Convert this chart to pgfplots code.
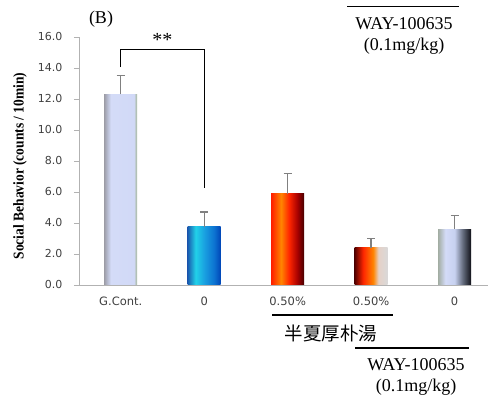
\documentclass[border=0pt]{standalone}
\usepackage{pgfplots}
\pgfplotsset{compat=1.18}
\usepackage{fontspec}
\setmainfont{Liberation Serif}
\newfontfamily\tickfont{DejaVu Sans}
\newfontfamily\cjk{Noto Sans CJK JP}
% shadings: path occupies 25bp..75bp of a 100bp shading
\pgfdeclarehorizontalshading{sgcont}{100bp}{rgb(0bp)=(0.62,0.62,0.66); rgb(25bp)=(0.62,0.62,0.66); rgb(30bp)=(0.72,0.74,0.82); rgb(35bp)=(0.83,0.86,0.97); rgb(70bp)=(0.82,0.85,0.97); rgb(73bp)=(0.70,0.76,0.72); rgb(75bp)=(0.64,0.70,0.64); rgb(100bp)=(0.64,0.70,0.64)}
\pgfdeclarehorizontalshading{sblue}{100bp}{rgb(0bp)=(0.10,0.36,0.69); rgb(25bp)=(0.10,0.36,0.69); rgb(37bp)=(0.13,0.82,0.91); rgb(50bp)=(0.10,0.63,0.88); rgb(65bp)=(0.05,0.45,0.82); rgb(75bp)=(0.0,0.27,0.72); rgb(100bp)=(0.0,0.27,0.72)}
\pgfdeclarehorizontalshading{sred}{100bp}{rgb(0bp)=(1,0.12,0); rgb(25bp)=(1,0.12,0); rgb(40bp)=(1,0.52,0); rgb(52bp)=(1,0.15,0); rgb(65bp)=(0.65,0,0); rgb(75bp)=(0.27,0,0); rgb(100bp)=(0.27,0,0)}
\pgfdeclarehorizontalshading{smix}{100bp}{rgb(0bp)=(0.33,0,0); rgb(25bp)=(0.33,0,0); rgb(38bp)=(1,0.15,0); rgb(53bp)=(1,0.52,0); rgb(61bp)=(0.90,0.82,0.78); rgb(75bp)=(0.85,0.85,0.85); rgb(100bp)=(0.85,0.85,0.85)}
\pgfdeclarehorizontalshading{sdark}{100bp}{rgb(0bp)=(0.64,0.68,0.64); rgb(25bp)=(0.64,0.68,0.64); rgb(36bp)=(0.83,0.86,0.97); rgb(50bp)=(0.78,0.82,0.94); rgb(62bp)=(0.40,0.43,0.50); rgb(75bp)=(0.06,0.06,0.09); rgb(100bp)=(0.06,0.06,0.09)}
\begin{document}
\begin{tikzpicture}[x=1pt,y=1pt]
\useasboundingbox (0,0) rectangle (488,398);
\begin{axis}[
  at={(79pt,113pt)}, anchor=south west,
  scale only axis, width=409pt, height=248pt,
  xmin=-0.5, xmax=4.4, ymin=0, ymax=16,
  ytick={0,2,...,16},
  xtick={0,1,2,3,4},
  xticklabels={G.Cont.,0,0.50\%,0.50\%,0},
  axis x line*=bottom, axis y line*=left,
  axis line style={gray!60, line width=0.8pt},
  x axis line style={-}, y axis line style={-},
  major x tick style={draw=none},
  major y tick style={gray!60, line width=0.8pt},
  tick align=outside, major tick length=5pt,
  /pgf/number format/assume math mode=true,
  yticklabel style={/pgf/number format/.cd, fixed, fixed zerofill, precision=1, /tikz/.cd, font=\tickfont\fontsize{11}{13}\selectfont, text=black!75, xshift=-8pt},
  xticklabel style={font=\tickfont\fontsize{11.5}{13}\selectfont, text=black!75, yshift=-3pt},
  clip=false,
  ybar, bar width=33pt, bar shift=0pt,
]
\addplot[draw=none, shading=sgcont, shade] coordinates {(0,12.3)};
\addplot[draw=none, shading=sblue, shade] coordinates {(1,3.75)};
\addplot[draw=none, shading=sred, shade] coordinates {(2,5.9)};
\addplot[draw=none, shading=smix, shade] coordinates {(3,2.4)};
\addplot[draw=none, shading=sdark, shade] coordinates {(4,3.6)};
\addplot[sharp plot, draw=none, mark=none, forget plot,
  error bars/.cd, y dir=plus, y explicit, error mark=|,
  error bar style={draw=black!50, line width=1.3pt},
  error mark options={draw=black!50, line width=1.3pt, mark size=4pt}]
  coordinates {(0,12.3) +- (0,1.2) (1,3.75) +- (0,0.95) (2,5.9) +- (0,1.3) (3,2.4) +- (0,0.6) (4,3.6) +- (0,0.9)};
\draw[line width=1.3pt] (axis cs:0,14.05) -- (axis cs:0,15.2) -- (axis cs:1,15.2) -- (axis cs:1,6.25);
\node[font=\fontsize{20}{20}\selectfont, anchor=south, inner sep=0pt] at (axis cs:0.5,15.35) {**};
\end{axis}
\node[font=\fontsize{18}{18}\selectfont] at (101,379) {(B)};
\node[font=\fontsize{15}{16}\selectfont\bfseries, rotate=90] at (20,232) {\scalebox{0.9}[1]{Social Behavior (counts / 10min)}};
% top annotation
\draw[line width=1.4pt] (347,391.5) -- (459,391.5);
\node[font=\fontsize{18}{21}\selectfont, align=center] at (404,362.5) {WAY-100635\\(0.1mg/kg)};
% bottom annotation
\draw[line width=1.4pt] (272,83) -- (393,83);
\node[font=\cjk\fontsize{18.5}{19}\selectfont] at (331,65) {半夏厚朴湯};
\draw[line width=1.4pt] (355,50) -- (469,50);
\node[font=\fontsize{18}{21}\selectfont, align=center] at (416,21) {WAY-100635\\(0.1mg/kg)};
\end{tikzpicture}
\end{document}
